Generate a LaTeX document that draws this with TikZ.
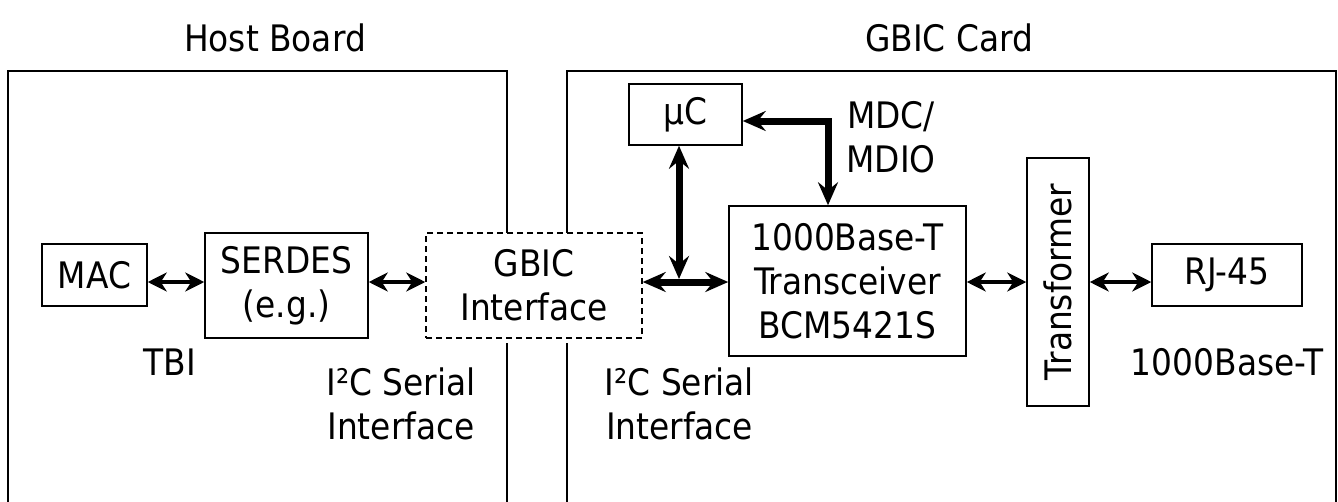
\documentclass[tikz,border=0pt]{standalone}
\usepackage{fontspec}
\setmainfont{DejaVu Sans Condensed}
\usepackage{graphicx}
\usetikzlibrary{arrows.meta}
\begin{document}
\begin{tikzpicture}[x=1pt,y=-1pt,
  every node/.style={font=\fontsize{36.5}{44}\selectfont, align=center, inner sep=0pt},
  box/.style={draw, line width=1.5pt, fill=white},
  frame/.style={line width=1.5pt},
  thinarr/.style={line width=4pt, {Stealth[length=19pt,width=19pt,inset=6pt]}-{Stealth[length=19pt,width=19pt,inset=6pt]}},
  thickarr/.style={line width=7pt, {Stealth[length=23pt,width=20pt,inset=8pt]}-{Stealth[length=23pt,width=20pt,inset=8pt]}}
]
\useasboundingbox (0,0) rectangle (1338,501);
% titles
\node (thost) at (275,38) {Host Board};
\node (tcard) at (949,38) {GBIC Card};
% frames
\draw[frame] (507,233) -- (507,71) -- (8,71) -- (8,510);
\draw[frame] (507,343) -- (507,510);
\draw[frame] (567,233) -- (567,71) -- (1336,71) -- (1336,510);
\draw[frame] (567,343) -- (567,510);
% blocks
\node[box, minimum width=105pt, minimum height=62pt] (mac) at (94.5,275) {MAC};
\node[box, minimum width=163pt, minimum height=105pt] (serdes) at (286.5,285.5) {SERDES\\(e.g.)};
\node[box, dashed, dash pattern=on 6pt off 4pt, minimum width=216pt, minimum height=105pt] (gbic) at (534,285.5) {GBIC\\Interface};
\node[box, minimum width=113pt, minimum height=61pt] (uc) at (685.5,114.5) {μC};
\node[box, minimum width=237pt, minimum height=150pt] (xcvr) at (847.5,281) {1000Base-T\\Transceiver\\BCM5421S};
\node[box, minimum width=62pt, minimum height=248pt] (tf) at (1058,282) {\rotatebox{90}{Transformer}};
\node[box, minimum width=150pt, minimum height=62pt] (rj) at (1227,275) {RJ-45};
% labels
\node[anchor=base] (tbi) at (170,375) {TBI};
\node (i2cl) at (401,404) {I²C Serial\\Interface};
\node (i2cr) at (679.5,404) {I²C Serial\\Interface};
\node (mdc) at (891,137) {MDC/\\MDIO};
\node[anchor=base] (base) at (1227,375) {1000Base-T};
% connectors
\coordinate (bus) at (0,282);
\coordinate (j) at (679,279);
\coordinate (m) at (828,121);
\draw[thinarr] (mac.east |- bus) -- (serdes.west |- bus);
\draw[thinarr] (serdes.east |- bus) -- (gbic.west |- bus);
\draw[thickarr] (gbic.east |- bus) -- (xcvr.west |- bus);
\draw[thickarr] (j |- uc.south) -- (j);
\draw[thickarr, line join=miter] (uc.east |- m) -- (m) -- (m |- xcvr.north);
\draw[thinarr] (xcvr.east |- bus) -- (tf.west |- bus);
\draw[thinarr] (tf.east |- bus) -- (rj.west |- bus);
\end{tikzpicture}
\end{document}
